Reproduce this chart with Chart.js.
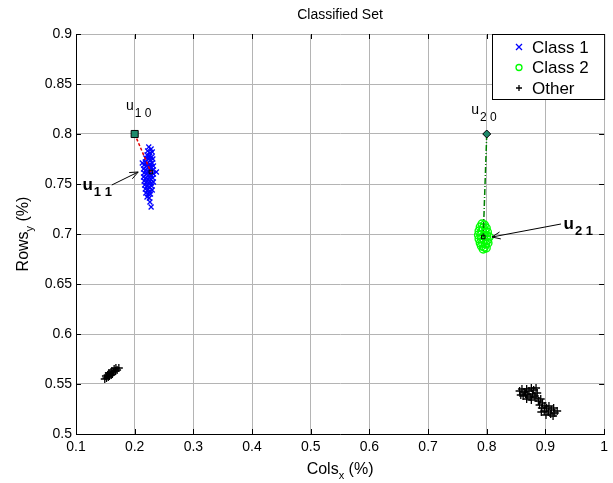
<!DOCTYPE html>
<html>
<head>
<meta charset="utf-8">
<script src="https://cdn.jsdelivr.net/npm/chart.js@4.4.1/dist/chart.umd.min.js"></script>
<style>
  html, body { margin: 0; padding: 0; background: #fff; }
  #wrap { width: 613px; height: 483px; }
</style>
</head>
<body>
<div id="wrap"><canvas id="chart" width="613" height="483"></canvas></div>
<script>
// cluster points, [cols, rows]
const class1 = [
  [0.224,0.787],[0.228,0.785],[0.222,0.783],[0.226,0.781],[0.230,0.782],[0.221,0.779],
  [0.225,0.778],[0.229,0.777],[0.219,0.776],[0.223,0.775],[0.227,0.774],[0.231,0.775],
  [0.218,0.772],[0.222,0.771],[0.226,0.770],[0.230,0.771],[0.213,0.771],[0.216,0.769],
  [0.220,0.768],[0.224,0.767],[0.228,0.767],[0.232,0.768],[0.215,0.765],[0.219,0.764],
  [0.223,0.763],[0.227,0.763],[0.231,0.764],[0.237,0.762],[0.216,0.761],[0.220,0.760],
  [0.224,0.759],[0.228,0.759],[0.232,0.760],[0.215,0.757],[0.219,0.756],[0.223,0.755],
  [0.227,0.755],[0.231,0.756],[0.216,0.753],[0.220,0.752],[0.224,0.751],[0.228,0.751],
  [0.232,0.752],[0.217,0.749],[0.221,0.748],[0.225,0.747],[0.229,0.748],[0.218,0.745],
  [0.222,0.744],[0.226,0.743],[0.230,0.744],[0.219,0.741],[0.223,0.740],[0.227,0.740],
  [0.221,0.737],[0.225,0.736],[0.226,0.732],[0.228,0.727]
];
const class2 = [
  [0.792,0.710],[0.796,0.709],[0.789,0.707],[0.794,0.706],[0.799,0.706],[0.787,0.703],
  [0.792,0.703],[0.797,0.702],[0.801,0.702],[0.786,0.699],[0.790,0.699],[0.795,0.698],
  [0.800,0.698],[0.804,0.697],[0.787,0.695],[0.791,0.695],[0.796,0.694],[0.801,0.694],
  [0.789,0.691],[0.793,0.691],[0.798,0.690],[0.802,0.691],[0.791,0.688],[0.796,0.687],
  [0.794,0.685],[0.799,0.686]
];
const other = [
  [0.149,0.555],[0.152,0.556],[0.155,0.557],[0.151,0.558],[0.157,0.558],[0.154,0.559],
  [0.160,0.559],[0.158,0.561],[0.162,0.560],[0.156,0.561],[0.164,0.562],[0.161,0.563],
  [0.167,0.563],[0.165,0.565],[0.170,0.564],[0.173,0.566],[0.168,0.566],
  [0.856,0.543],[0.860,0.545],[0.864,0.542],[0.868,0.545],[0.872,0.543],[0.876,0.546],
  [0.880,0.544],[0.884,0.546],[0.858,0.539],[0.862,0.538],[0.866,0.540],[0.870,0.539],
  [0.874,0.537],[0.878,0.540],[0.882,0.538],[0.886,0.541],[0.868,0.535],[0.876,0.534],
  [0.884,0.536],[0.888,0.533],[0.892,0.535],[0.890,0.529],[0.895,0.531],[0.899,0.528],
  [0.894,0.526],[0.902,0.526],[0.906,0.528],[0.898,0.523],[0.905,0.522],[0.910,0.524],
  [0.914,0.526],[0.909,0.520],[0.916,0.521],[0.920,0.523],[0.893,0.522],[0.901,0.519],
  [0.913,0.518]
];

// initial centres u_10, u_20 and the centres they moved to
const startCentres = [[0.2, 0.8], [0.8, 0.8]];
const endCentres = [[0.2276, 0.762], [0.794, 0.697]];

// annotation labels: main letter, subscript, anchor, bold
const centreLabels = [
  { text: 'u', sub: '1 0', at: [0.185, 0.824], bold: false },
  { text: 'u', sub: '2 0', at: [0.7735, 0.820], bold: false },
  { text: 'u', sub: '1 1', at: [0.111, 0.744], bold: true },
  { text: 'u', sub: '2 1', at: [0.931, 0.705], bold: true }
];
// arrows from label to centre
const arrows = [
  { from: [0.161, 0.749], to: [0.206, 0.762] },
  { from: [0.9265, 0.710], to: [0.809, 0.697] }
];

const xTicks = [0.1, 0.2, 0.3, 0.4, 0.5, 0.6, 0.7, 0.8, 0.9, 1];
const yTicks = [0.5, 0.55, 0.6, 0.65, 0.7, 0.75, 0.8, 0.85, 0.9];
const legendItems = [
  { label: 'Class 1', color: '#0000ff', marker: 'x' },
  { label: 'Class 2', color: '#00ff00', marker: 'o' },
  { label: 'Other', color: '#000000', marker: '+' }
];

const toXY = arr => arr.map(p => ({ x: p[0], y: p[1] }));
const FONT = 'Arial, "Liberation Sans", sans-serif';

function drawMarker(ctx, type, x, y, r) {
  ctx.beginPath();
  if (type === 'x') {
    ctx.moveTo(x - r, y - r); ctx.lineTo(x + r, y + r);
    ctx.moveTo(x + r, y - r); ctx.lineTo(x - r, y + r);
  } else if (type === '+') {
    ctx.moveTo(x - r, y); ctx.lineTo(x + r, y);
    ctx.moveTo(x, y - r); ctx.lineTo(x, y + r);
  } else {
    ctx.arc(x, y, r, 0, Math.PI * 2);
  }
  ctx.stroke();
}

const overlay = {
  id: 'overlay',
  afterDatasetsDraw(chart) {
    const ctx = chart.ctx;
    const xs = chart.scales.x, ys = chart.scales.y;
    const a = chart.chartArea;
    ctx.save();

    // inward tick marks on all four sides
    ctx.strokeStyle = '#000';
    ctx.lineWidth = 1;
    ctx.beginPath();
    xTicks.forEach(v => {
      const px = Math.round(xs.getPixelForValue(v)) + 0.5;
      ctx.moveTo(px, a.bottom); ctx.lineTo(px, a.bottom - 5);
      ctx.moveTo(px, a.top); ctx.lineTo(px, a.top + 5);
    });
    yTicks.forEach(v => {
      const py = Math.round(ys.getPixelForValue(v)) + 0.5;
      ctx.moveTo(a.left, py); ctx.lineTo(a.left + 5, py);
      ctx.moveTo(a.right, py); ctx.lineTo(a.right - 5, py);
    });
    ctx.stroke();

    // arrows
    arrows.forEach(ar => {
      const x1 = xs.getPixelForValue(ar.from[0]), y1 = ys.getPixelForValue(ar.from[1]);
      const x2 = xs.getPixelForValue(ar.to[0]), y2 = ys.getPixelForValue(ar.to[1]);
      const ang = Math.atan2(y2 - y1, x2 - x1);
      ctx.beginPath();
      ctx.moveTo(x1, y1); ctx.lineTo(x2, y2);
      ctx.moveTo(x2, y2);
      ctx.lineTo(x2 - 9 * Math.cos(ang - 0.4), y2 - 9 * Math.sin(ang - 0.4));
      ctx.moveTo(x2, y2);
      ctx.lineTo(x2 - 9 * Math.cos(ang + 0.4), y2 - 9 * Math.sin(ang + 0.4));
      ctx.stroke();
    });

    // u labels with subscripts
    ctx.fillStyle = '#000';
    ctx.textBaseline = 'alphabetic';
    ctx.textAlign = 'left';
    centreLabels.forEach(l => {
      const px = xs.getPixelForValue(l.at[0]), py = ys.getPixelForValue(l.at[1]);
      const w = l.bold ? 'bold ' : '';
      ctx.font = w + (l.bold ? 17 : 14) + 'px ' + FONT;
      ctx.fillText(l.text, px, py);
      const uw = ctx.measureText(l.text).width;
      ctx.font = w + (l.bold ? 13 : 12) + 'px ' + FONT;
      ctx.fillText(l.sub, px + uw + 1, py + (l.bold ? 6 : 7));
    });
    ctx.restore();
  },
  afterDraw(chart) {
    const ctx = chart.ctx;
    const a = chart.chartArea;
    ctx.save();
    ctx.fillStyle = '#000';

    // title
    ctx.font = '14px ' + FONT;
    ctx.textAlign = 'center';
    ctx.textBaseline = 'middle';
    ctx.fillText('Classified Set', (a.left + a.right) / 2, 15);

    // axis titles with subscripts
    const drawSubTitle = (main, sub, tail) => {
      ctx.font = '16px ' + FONT;
      const w1 = ctx.measureText(main).width;
      const w3 = ctx.measureText(tail).width;
      ctx.font = '11px ' + FONT;
      const w2 = ctx.measureText(sub).width;
      const total = w1 + w2 + w3;
      ctx.textAlign = 'left';
      ctx.textBaseline = 'alphabetic';
      ctx.font = '16px ' + FONT;
      ctx.fillText(main, -total / 2, 0);
      ctx.fillText(tail, -total / 2 + w1 + w2, 0);
      ctx.font = '11px ' + FONT;
      ctx.fillText(sub, -total / 2 + w1, 5);
    };
    ctx.save();
    ctx.translate((a.left + a.right) / 2, 474);
    drawSubTitle('Cols', 'x', ' (%)');
    ctx.restore();
    ctx.save();
    ctx.translate(28, (a.top + a.bottom) / 2);
    ctx.rotate(-Math.PI / 2);
    drawSubTitle('Rows', 'y', ' (%)');
    ctx.restore();

    // legend box in the top right corner
    const bx = 492, by = a.top, bw = a.right + 1 - bx, bh = 66;
    ctx.fillStyle = '#fff';
    ctx.fillRect(bx, by, bw, bh);
    ctx.strokeStyle = '#000';
    ctx.lineWidth = 1;
    ctx.strokeRect(bx + 0.5, by + 0.5, bw - 1, bh - 1);
    ctx.font = '17px ' + FONT;
    ctx.textAlign = 'left';
    ctx.textBaseline = 'middle';
    legendItems.forEach((it, i) => {
      const y = by + 13 + i * 20.5;
      ctx.strokeStyle = it.color;
      ctx.lineWidth = 1.3;
      drawMarker(ctx, it.marker, 519, y, 3);
      ctx.fillStyle = '#000';
      ctx.fillText(it.label, 532, y + 1);
    });
    ctx.restore();
  }
};

new Chart(document.getElementById('chart'), {
  type: 'scatter',
  data: {
    datasets: [
      { label: 'Class 1', data: toXY(class1), pointStyle: 'crossRot', pointRadius: 3.5,
        borderColor: '#0000ff', backgroundColor: '#0000ff', borderWidth: 1.3, order: 2 },
      { label: 'Class 2', data: toXY(class2), pointStyle: 'circle', pointRadius: 4,
        borderColor: '#00ff00', backgroundColor: 'rgba(0,0,0,0)', borderWidth: 1.4, order: 2 },
      { label: 'Other', data: toXY(other), pointStyle: 'cross', pointRadius: 4,
        borderColor: '#000', backgroundColor: '#000', borderWidth: 1.3, order: 2 },
      { type: 'line', data: toXY([startCentres[0], endCentres[0]]), borderColor: '#e00000',
        borderWidth: 1.5, borderDash: [3, 2], pointRadius: 0, order: 1 },
      { type: 'line', data: toXY([startCentres[1], endCentres[1]]), borderColor: '#008000',
        borderWidth: 1.5, borderDash: [6, 2, 1, 2], pointRadius: 0, order: 1 },
      { data: toXY([startCentres[0]]), pointStyle: 'rect', pointRadius: 5,
        backgroundColor: '#1f8a6b', borderColor: '#000', borderWidth: 1, order: 0 },
      { data: toXY([startCentres[1]]), pointStyle: 'rectRot', pointRadius: 4,
        backgroundColor: '#1f8a6b', borderColor: '#000', borderWidth: 1, order: 0 },
      { data: toXY(endCentres), pointStyle: 'rect', pointRadius: 2.5,
        backgroundColor: 'rgba(0,0,0,0)', borderColor: '#000', borderWidth: 1, order: 0 }
    ]
  },
  options: {
    responsive: false,
    animation: false,
    layout: { padding: { left: 0, right: 8, top: 34, bottom: 0 } },
    plugins: { legend: { display: false }, tooltip: { enabled: false }, title: { display: false } },
    scales: {
      x: {
        type: 'linear', min: 0.1, max: 1,
        afterFit: s => { s.height = 49; },
        afterBuildTicks: s => { s.ticks = xTicks.map(v => ({ value: v })); },
        grid: { color: '#b4b4b4', drawTicks: false },
        border: { color: '#000', width: 1 },
        ticks: { padding: 5, color: '#000', font: { family: FONT, size: 14 },
          callback: v => String(Number(v.toFixed(2))) }
      },
      y: {
        type: 'linear', min: 0.5, max: 0.9,
        afterFit: s => { s.width = 76; },
        afterBuildTicks: s => { s.ticks = yTicks.map(v => ({ value: v })); },
        grid: { color: '#b4b4b4', drawTicks: false },
        border: { color: '#000', width: 1 },
        ticks: { padding: 4, color: '#000', font: { family: FONT, size: 14 },
          callback: v => String(Number(v.toFixed(2))) }
      }
    }
  },
  plugins: [overlay]
});
</script>
</body>
</html>
